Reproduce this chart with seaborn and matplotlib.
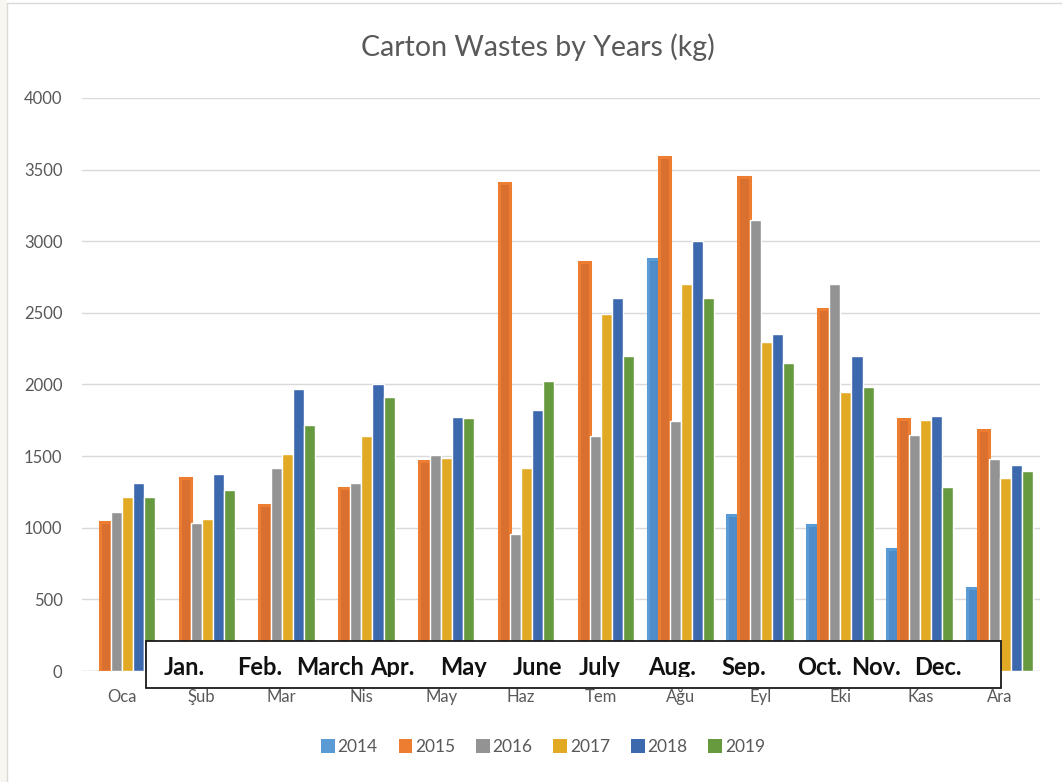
"""
Carton wastes per month, grouped by year (kg), with the English month strip
pasted over the bottom of the bars like in the original slide.
"""
import matplotlib
matplotlib.use("Agg")
import matplotlib.pyplot as plt
import matplotlib.patches as mpatches
import pandas as pd
import seaborn as sns

# ─────────────────────────────────────────────────────────────────────────────
# Data
# ─────────────────────────────────────────────────────────────────────────────
months = ["Oca", "Şub", "Mar", "Nis", "May", "Haz",
          "Tem", "Ağu", "Eyl", "Eki", "Kas", "Ara"]
years = ["2014", "2015", "2016", "2017", "2018", "2019"]

kg_2014 = [0, 0, 0, 0, 0, 0, 0, 2875, 1090, 1020, 850, 580]
kg_2015 = [1040, 1350, 1160, 1275, 1465, 3410, 2855, 3585, 3450, 2525, 1760, 1680]
kg_2016 = [1110, 1035, 1415, 1309, 1506, 958, 1640, 1745, 3150, 2705, 1645, 1480]
kg_2017 = [1215, 1063, 1518, 1639, 1489, 1415, 2495, 2705, 2300, 1950, 1750, 1345]
kg_2018 = [1309, 1375, 1970, 2000, 1773, 1820, 2605, 3000, 2355, 2200, 1780, 1440]
kg_2019 = [1215, 1262, 1714, 1910, 1763, 2025, 2200, 2605, 2150, 1980, 1285, 1395]

box_labels = ["Jan.", "Feb.", "March", "Apr.", "May", "June",
              "July", "Aug.", "Sep.", "Oct.", "Nov.", "Dec."]

# ─────────────────────────────────────────────────────────────────────────────
# Style
# ─────────────────────────────────────────────────────────────────────────────
YEAR_COLORS = {
    "2014": "#5B9BD5",
    "2015": "#ED7D31",
    "2016": "#939393",
    "2017": "#E2A924",
    "2018": "#3C68AE",
    "2019": "#67993F",
}
# the two first series have a darker fill inside a lighter outline
OUTLINED = {"2014": "#4D8CC8", "2015": "#DA7030"}
TEXT_GREY = "#595959"
GRID_GREY = "#D9D9D9"

sns.set_theme(style="white")
plt.rcParams["font.family"] = ["Lato", "DejaVu Sans"]

W, H = 1062, 782


def fx(px):
    return px / W


def fy(py):
    return 1 - py / H


series = [kg_2014, kg_2015, kg_2016, kg_2017, kg_2018, kg_2019]
df = pd.DataFrame({
    "month": months * len(years),
    "kg": [v for s in series for v in s],
    "year": [y for y in years for _ in months],
})

fig = plt.figure(figsize=(W / 100, H / 100), dpi=100)
ax = fig.add_axes([fx(82), fy(671), fx(1040) - fx(82), fy(98) - fy(671)])

sns.barplot(data=df, x="month", y="kg", hue="year", order=months,
            hue_order=years, palette=YEAR_COLORS, width=0.83,
            saturation=1, legend=False, ax=ax, zorder=3)

# outline for 2014 / 2015 bars
for year, cont in zip(years, ax.containers):
    if year not in OUTLINED:
        continue
    for bar in cont:
        if bar.get_height() <= 0:
            bar.set_visible(False)
            continue
        bar.set_facecolor(OUTLINED[year])
        bar.set_edgecolor(YEAR_COLORS[year])
        bar.set_linewidth(2.2)

ax.set_ylim(0, 4000)
ax.set_xlim(-0.5, len(months) - 0.5)
ax.set_yticks(range(0, 4001, 500))
ax.yaxis.grid(True, color=GRID_GREY, linewidth=1, zorder=0)
ax.set_axisbelow(True)
for side in ["top", "right", "left", "bottom"]:
    ax.spines[side].set_visible(False)
ax.axhline(0, color=GRID_GREY, linewidth=1, zorder=1)
ax.set_xlabel("")
ax.set_ylabel("")
ax.tick_params(axis="y", length=0, pad=14, labelsize=12, labelcolor=TEXT_GREY)
ax.tick_params(axis="x", length=0, pad=13, labelsize=12, labelcolor=TEXT_GREY)

fig.text(fx(538), fy(47), "Carton Wastes by Years (kg)", ha="center",
         va="center", fontsize=20.5, color=TEXT_GREY)

# legend
handles = [mpatches.Patch(facecolor=YEAR_COLORS[y], edgecolor="none") for y in years]
leg = fig.legend(handles, years, loc="center", bbox_to_anchor=(fx(543), fy(747)),
                 ncol=6, frameon=False, fontsize=12.5, handlelength=0.8,
                 handleheight=0.8, handletextpad=0.15, columnspacing=1.2)
for t in leg.get_texts():
    t.set_color(TEXT_GREY)

# pasted English month strip
box = mpatches.Rectangle((fx(146), fy(688)), fx(1001) - fx(146), fy(641) - fy(688),
                         transform=fig.transFigure, facecolor="white",
                         edgecolor="#1A1A1A", linewidth=1.3, zorder=10)
fig.patches.append(box)
clip = mpatches.Rectangle((fx(146), fy(677)), fx(1001) - fx(146), fy(641) - fy(677),
                          transform=fig.transFigure, facecolor="none",
                          edgecolor="none")
fig.patches.append(clip)
box_x = [184, 260, 330, 392, 463, 537, 600, 672, 744, 820, 876, 938]
for px, lab in zip(box_x, box_labels):
    t = fig.text(fx(px), fy(675), lab, ha="center", va="baseline",
                 fontsize=17, fontweight="bold", color="#111111", zorder=11)
    t.set_clip_path(clip)

# faint slide frame on the top / left
fig.add_artist(plt.Line2D([fx(7), 1], [fy(3), fy(3)], transform=fig.transFigure,
                          color=GRID_GREY, linewidth=1))
fig.add_artist(plt.Line2D([fx(7), fx(7)], [0, fy(3)], transform=fig.transFigure,
                          color=GRID_GREY, linewidth=1))
fig.patches.append(mpatches.Rectangle((0, 0), fx(6.5), 1, transform=fig.transFigure,
                                      facecolor="#F8F6F0", edgecolor="none"))

fig.savefig("out.png", dpi=100)
